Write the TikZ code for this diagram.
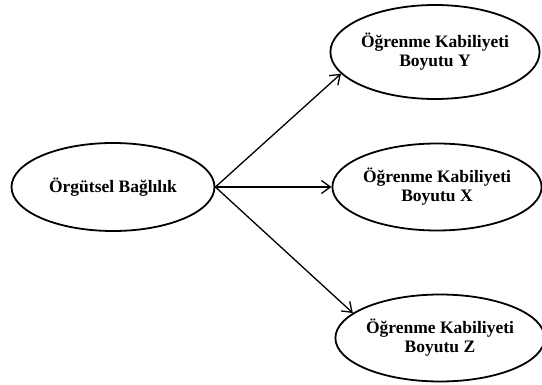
\documentclass[tikz,border=0pt]{standalone}
\usepackage{fontspec}
\setmainfont{Liberation Serif}
\usetikzlibrary{shapes.geometric, arrows.meta}
\begin{document}
\begin{tikzpicture}[x=1pt, y=-1pt,
  oval/.style={draw, ellipse, line width=1.8pt, inner sep=0pt, align=center,
    font=\bfseries\fontsize{17.5}{19}\selectfont},
  link/.style={line width=1.3pt, -{Straight Barb[length=9pt, width=13pt, line width=1.3pt]}}]
  \useasboundingbox (0,0) rectangle (542,385);
  % source concept
  \node[oval, minimum width=203pt, minimum height=88pt] (org) at (113,187) {Örgütsel Bağlılık};
  % learning capability dimensions
  \node[oval, minimum width=204pt, minimum height=94pt] (dimY) at (435,52) {Öğrenme Kabiliyeti\\Boyutu Y};
  \node[oval, minimum width=205pt, minimum height=87pt] (dimX) at (437,187) {Öğrenme Kabiliyeti\\Boyutu X};
  \node[oval, minimum width=204pt, minimum height=87pt] (dimZ) at (440,338) {Öğrenme Kabiliyeti\\Boyutu Z};
  % relations
  \draw[link] (org.east) -- (dimY.193);
  \draw[link] (org.east) -- (dimX.west);
  \draw[link] (org.east) -- (dimZ.164);
\end{tikzpicture}
\end{document}
